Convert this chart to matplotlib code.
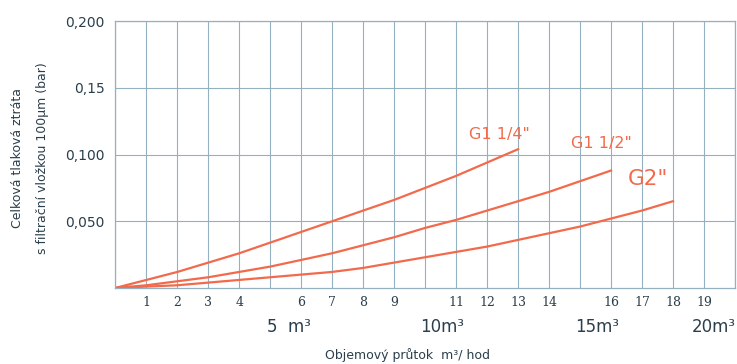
import matplotlib.pyplot as plt

# flow rate (m3/h) and pressure loss (bar) for each filter size
flow_114 = [0, 1, 2, 3, 4, 5, 6, 7, 8, 9, 10, 11, 12, 13]
loss_114 = [0, 0.006, 0.012, 0.019, 0.026, 0.034, 0.042, 0.050, 0.058, 0.066,
            0.075, 0.084, 0.094, 0.104]

flow_112 = [0, 1, 2, 3, 4, 5, 6, 7, 8, 9, 10, 11, 12, 13, 14, 15, 16]
loss_112 = [0, 0.002, 0.005, 0.008, 0.012, 0.016, 0.021, 0.026, 0.032, 0.038,
            0.045, 0.051, 0.058, 0.065, 0.072, 0.080, 0.088]

flow_2 = [0, 1, 2, 3, 4, 5, 6, 7, 8, 9, 10, 11, 12, 13, 14, 15, 16, 17, 18]
loss_2 = [0, 0.001, 0.002, 0.004, 0.006, 0.008, 0.010, 0.012, 0.015, 0.019,
          0.023, 0.027, 0.031, 0.036, 0.041, 0.046, 0.052, 0.058, 0.065]

small_ticks = [1, 2, 3, 4, 6, 7, 8, 9, 11, 12, 13, 14, 16, 17, 18, 19]
big_ticks = [5, 10, 15, 20]
big_labels = ["5  m³", "10m³", "15m³", "20m³"]
y_ticks = [0.05, 0.10, 0.15, 0.20]
y_labels = ["0,050", "0,100", "0,15", "0,200"]

line_color = "#f26a4b"
grid_color = "#93b1c0"
text_color = "#2a3e4b"

fig = plt.figure(figsize=(7.37, 3.64), dpi=100)
ax = fig.add_axes([0.1567, 0.209, 0.8405, 0.733])

ax.plot(flow_114, loss_114, color=line_color, lw=1.6)
ax.plot(flow_112, loss_112, color=line_color, lw=1.6)
ax.plot(flow_2, loss_2, color=line_color, lw=1.6)

ax.set_xlim(0, 20)
ax.set_ylim(0, 0.2)

# a grid line on every integer, small labels only where there is no big one
xt = list(range(0, 21))
ax.set_xticks(xt)
ax.set_xticklabels([str(t) if t in small_ticks else "" for t in xt],
                   family="DejaVu Serif", fontsize=9, color=text_color)
ax.set_yticks(y_ticks)
ax.set_yticklabels(y_labels, fontsize=10, color=text_color)
ax.tick_params(axis="both", which="both", length=0)
ax.tick_params(axis="x", pad=6)
ax.tick_params(axis="y", pad=8)
ax.grid(color=grid_color, lw=0.8)
ax.set_axisbelow(True)
for s in ax.spines.values():
    s.set_color(grid_color)
    s.set_linewidth(0.9)

trans = ax.get_xaxis_transform()
for t, lab, off in zip(big_ticks, big_labels, [0.6, 0.55, 0.55, -0.7]):
    ax.text(t + off, -0.146, lab, transform=trans, ha="center", va="center",
            fontsize=12, color=text_color, clip_on=False)

# curve labels
ax.text(12.4, 0.115, "G1 1/4\"", color=line_color, fontsize=11.5,
        ha="center", va="center")
ax.text(15.7, 0.108, "G1 1/2\"", color=line_color, fontsize=11.5,
        ha="center", va="center")
ax.text(17.2, 0.082, "G2\"", color=line_color, fontsize=15.5,
        ha="center", va="center")

fig.text(407 / 737, 1 - 355 / 364, "Objemový průtok  m³/ hod", ha="center",
         va="center", fontsize=9, color=text_color)
fig.text(18 / 737, 1 - 158 / 364, "Celková tlaková ztráta", rotation=90,
         ha="center", va="center", fontsize=9, color=text_color)
fig.text(43 / 737, 1 - 158 / 364, "s filtrační vložkou 100µm (bar)",
         rotation=90, ha="center", va="center", fontsize=9, color=text_color)

fig.savefig("out.png", dpi=100)
